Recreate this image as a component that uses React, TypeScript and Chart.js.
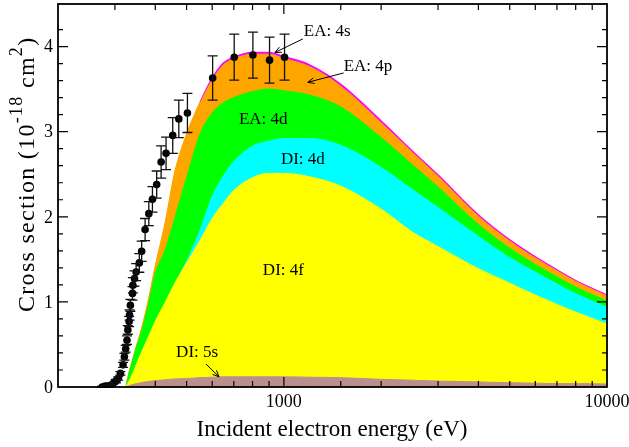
import React, { useEffect, useRef } from 'react';
import { Chart, registerables } from 'chart.js';

Chart.register(...registerables);

// ---- theory grid (incident energy, eV) ----
const energies = [325, 330, 340, 350, 360, 380, 400, 430, 460, 500, 550, 600, 650, 700, 800, 900, 1000, 1200, 1500, 2000, 2500, 3000, 4000, 5000, 6000, 7000, 8000, 10000];
// individual contributions (10^-18 cm^2), stacked bottom -> top
const di5s = [0, 0.01, 0.03, 0.04, 0.05, 0.065, 0.075, 0.085, 0.095, 0.10, 0.11, 0.115, 0.12, 0.12, 0.12, 0.12, 0.12, 0.115, 0.11, 0.09, 0.08, 0.07, 0.06, 0.05, 0.045, 0.04, 0.04, 0.035];
const di4f = [0, 0.04, 0.12, 0.23, 0.33, 0.515, 0.695, 0.915, 1.125, 1.36, 1.61, 1.865, 2.04, 2.19, 2.34, 2.39, 2.39, 2.355, 2.25, 2.00, 1.74, 1.58, 1.33, 1.17, 1.035, 0.93, 0.84, 0.705];
const di4d = [0, 0, 0, 0, 0, 0, 0, 0, 0, 0.02, 0.12, 0.26, 0.32, 0.34, 0.37, 0.38, 0.41, 0.45, 0.48, 0.49, 0.50, 0.46, 0.38, 0.30, 0.27, 0.24, 0.215, 0.195];
const ea4d = [0, 0.07, 0.15, 0.20, 0.23, 0.37, 0.56, 0.62, 0.77, 0.98, 1.13, 0.98, 0.86, 0.75, 0.64, 0.61, 0.56, 0.51, 0.45, 0.35, 0.29, 0.24, 0.14, 0.11, 0.09, 0.085, 0.08, 0.075];
const ea4p = [0, 0.01, 0.01, 0.01, 0.02, 0.04, 0.08, 0.31, 0.53, 0.50, 0.36, 0.385, 0.445, 0.455, 0.44, 0.41, 0.38, 0.335, 0.245, 0.175, 0.145, 0.125, 0.095, 0.085, 0.075, 0.07, 0.065, 0.06];
const ea4s = [0, 0, 0, 0, 0, 0, 0, 0, 0, 0.005, 0.01, 0.02, 0.02, 0.02, 0.02, 0.02, 0.02, 0.02, 0.02, 0.02, 0.015, 0.015, 0.015, 0.012, 0.012, 0.01, 0.01, 0.01];

const layerNames = ['DI: 5s', 'DI: 4f', 'DI: 4d', 'EA: 4d', 'EA: 4p', 'EA: 4s'];
const layerColors = ['#bc8f8f', '#ffff00', '#00ffff', '#00ff00', '#ffa500', '#ff00ff'];

// ---- experiment ----
const expEnergy = [274, 280, 286, 291, 296, 302, 307, 312, 318, 321, 324, 327, 329, 332, 333, 335, 340, 341, 345, 349, 357, 363, 372, 382, 392, 404, 417, 432, 453, 473, 503, 602, 702, 802, 903, 1005];
const expSigma = [0.00, 0.01, 0.01, 0.02, 0.04, 0.07, 0.10, 0.16, 0.26, 0.355, 0.45, 0.55, 0.67, 0.77, 0.845, 0.96, 1.10, 1.196, 1.275, 1.35, 1.458, 1.595, 1.85, 2.037, 2.205, 2.378, 2.643, 2.745, 2.956, 3.15, 3.22, 3.63, 3.875, 3.90, 3.84, 3.875];
const expError = [0.01, 0.01, 0.01, 0.01, 0.01, 0.02, 0.02, 0.02, 0.03, 0.04, 0.04, 0.05, 0.05, 0.06, 0.06, 0.07, 0.08, 0.09, 0.09, 0.10, 0.11, 0.12, 0.13, 0.14, 0.15, 0.16, 0.19, 0.19, 0.21, 0.22, 0.23, 0.26, 0.27, 0.27, 0.27, 0.27];

// ---- axes ----
const xMin = 200;
const xMax = 10000;
const yMin = 0;
const yMax = 4.5;
const xTickLabels = [1000, 10000];
const yTickLabels = [0, 1, 2, 3, 4];

// ---- annotations ----
const noteTexts = ['EA: 4s', 'EA: 4p', 'EA: 4d', 'DI: 4d', 'DI: 4f', 'DI: 5s'];
const noteE = [1153, 1531, 726, 979, 861, 464];
const noteS = [4.18, 3.77, 3.14, 2.67, 1.37, 0.40];
const arrowFromE = [1145, 1531, 574];
const arrowFromS = [4.09, 3.69, 0.27];
const arrowToE = [938, 1186, 630];
const arrowToS = [3.93, 3.58, 0.12];

const FONT = '"Liberation Serif", "Times New Roman", serif';

function drawArrow(ctx: CanvasRenderingContext2D, x0: number, y0: number, x1: number, y1: number) {
  ctx.beginPath();
  ctx.moveTo(x0, y0);
  ctx.lineTo(x1, y1);
  ctx.stroke();
  const ang = Math.atan2(y1 - y0, x1 - x0);
  const L = 7;
  const A = 0.42;
  ctx.beginPath();
  ctx.moveTo(x1 - L * Math.cos(ang - A), y1 - L * Math.sin(ang - A));
  ctx.lineTo(x1, y1);
  ctx.lineTo(x1 - L * Math.cos(ang + A), y1 - L * Math.sin(ang + A));
  ctx.stroke();
}

const decorPlugin = {
  id: 'decor',
  afterDatasetsDraw(chart: any) {
    const { ctx, chartArea: a, scales } = chart;
    const x = scales.x;
    const y = scales.y;
    ctx.save();

    // error bars
    ctx.strokeStyle = '#111';
    ctx.lineWidth = 1.3;
    expEnergy.forEach((e, i) => {
      const px = x.getPixelForValue(e);
      const pt = y.getPixelForValue(expSigma[i] + expError[i]);
      const pb = y.getPixelForValue(Math.max(0, expSigma[i] - expError[i]));
      ctx.beginPath();
      ctx.moveTo(px, pt);
      ctx.lineTo(px, pb);
      ctx.moveTo(px - 5, pt);
      ctx.lineTo(px + 5, pt);
      ctx.moveTo(px - 5, pb);
      ctx.lineTo(px + 5, pb);
      ctx.stroke();
    });

    // frame
    ctx.strokeStyle = '#000';
    ctx.lineWidth = 1.8;
    ctx.strokeRect(a.left, a.top, a.right - a.left, a.bottom - a.top);

    // inward ticks
    ctx.lineWidth = 1.2;
    x.ticks.forEach((t: any) => {
      if (t.value <= xMin || t.value >= xMax) return;
      const px = x.getPixelForValue(t.value);
      const major = xTickLabels.includes(t.value);
      const len = major ? 10 : 6;
      ctx.beginPath();
      ctx.moveTo(px, a.bottom);
      ctx.lineTo(px, a.bottom - len);
      ctx.moveTo(px, a.top);
      ctx.lineTo(px, a.top + len);
      ctx.stroke();
    });
    y.ticks.forEach((t: any) => {
      if (t.value <= yMin || t.value >= yMax) return;
      const py = y.getPixelForValue(t.value);
      const major = Math.abs(t.value - Math.round(t.value)) < 1e-6;
      const len = major ? 10 : 5;
      ctx.beginPath();
      ctx.moveTo(a.left, py);
      ctx.lineTo(a.left + len, py);
      ctx.moveTo(a.right, py);
      ctx.lineTo(a.right - len, py);
      ctx.stroke();
    });

    // tick labels
    ctx.fillStyle = '#000';
    ctx.font = `18px ${FONT}`;
    ctx.textAlign = 'center';
    ctx.textBaseline = 'alphabetic';
    xTickLabels.forEach((v) => {
      ctx.fillText(String(v), x.getPixelForValue(v), a.bottom + 20);
    });
    ctx.textAlign = 'right';
    ctx.textBaseline = 'middle';
    yTickLabels.forEach((v) => {
      ctx.fillText(String(v), a.left - 5, y.getPixelForValue(v) + 1);
    });

    // axis titles
    ctx.font = `23px ${FONT}`;
    ctx.textAlign = 'center';
    ctx.textBaseline = 'alphabetic';
    ctx.fillText('Incident electron energy (eV)', 332, 436);

    const parts: [string, number, number][] = [
      ['Cross section (10', 24, 0],
      ['-18', 18, -12],
      [' cm', 24, 0],
      ['2', 18, -12],
      [')', 24, 0],
    ];
    ctx.save();
    (ctx as any).letterSpacing = '1.3px';
    ctx.translate(34, 0);
    ctx.rotate(-Math.PI / 2);
    ctx.textAlign = 'left';
    let cx = -312;
    parts.forEach(([s, f, dy]) => {
      ctx.font = `${f}px ${FONT}`;
      ctx.fillText(s, cx, dy);
      cx += ctx.measureText(s).width;
    });
    ctx.restore();

    // annotations
    ctx.font = `17px ${FONT}`;
    ctx.textAlign = 'left';
    ctx.textBaseline = 'middle';
    noteTexts.forEach((s, i) => {
      ctx.fillText(s, x.getPixelForValue(noteE[i]), y.getPixelForValue(noteS[i]));
    });
    ctx.strokeStyle = '#000';
    ctx.lineWidth = 1;
    arrowFromE.forEach((e, i) => {
      drawArrow(
        ctx,
        x.getPixelForValue(e),
        y.getPixelForValue(arrowFromS[i]),
        x.getPixelForValue(arrowToE[i]),
        y.getPixelForValue(arrowToS[i])
      );
    });

    ctx.restore();
  },
};

export default function App() {
  const canvasRef = useRef<HTMLCanvasElement | null>(null);

  useEffect(() => {
    document.body.style.margin = '0';
    const canvas = canvasRef.current;
    if (!canvas) return;

    const layers = [di5s, di4f, di4d, ea4d, ea4p, ea4s];
    const cumulative = layers.map((_, i) =>
      energies.map((e, j) => ({
        x: e,
        y: layers.slice(0, i + 1).reduce((s, l) => s + l[j], 0),
      }))
    );

    const areaSets = cumulative.map((pts, i) => {
      const isTop = i === layers.length - 1;
      return {
        label: layerNames[i],
        data: pts,
        backgroundColor: layerColors[i],
        borderColor: layerColors[i],
        borderWidth: isTop ? 1.6 : 1,
        fill: 'origin',
        pointRadius: 0,
        cubicInterpolationMode: 'monotone',
        segment: isTop
          ? { borderColor: (c: any) => (c.p0.parsed.x >= 550 ? layerColors[i] : layerColors[i - 1]) }
          : undefined,
      };
    });

    const pointsSet = {
      label: 'Experiment',
      data: expEnergy.map((e, i) => ({ x: e, y: expSigma[i] })),
      showLine: false,
      fill: false,
      pointRadius: 3.8,
      pointBackgroundColor: '#000',
      pointBorderColor: '#000',
      pointBorderWidth: 0,
      borderColor: '#000',
      borderWidth: 0,
    };

    const chart = new Chart(canvas, {
      type: 'line',
      data: { datasets: [pointsSet, ...areaSets] as any },
      options: {
        animation: false,
        responsive: true,
        maintainAspectRatio: false,
        devicePixelRatio: 1,
        layout: { padding: { top: 3, right: 22, left: 0, bottom: 0 } },
        plugins: {
          legend: { display: false },
          tooltip: { enabled: false },
        },
        scales: {
          x: {
            type: 'logarithmic',
            min: xMin,
            max: xMax,
            grid: { display: false, drawTicks: false },
            border: { display: false },
            ticks: { display: false, autoSkip: false },
            afterFit: (s: any) => {
              s.height = 60;
            },
          },
          y: {
            type: 'linear',
            min: yMin,
            max: yMax,
            grid: { display: false, drawTicks: false },
            border: { display: false },
            ticks: { display: false, stepSize: 0.2, autoSkip: false },
            afterFit: (s: any) => {
              s.width = 58;
            },
          },
        },
      } as any,
      plugins: [decorPlugin],
    });

    return () => chart.destroy();
  }, []);

  return (
    <div style={{ width: 629, height: 447, position: 'relative', background: '#fff' }}>
      <canvas ref={canvasRef} />
    </div>
  );
}
